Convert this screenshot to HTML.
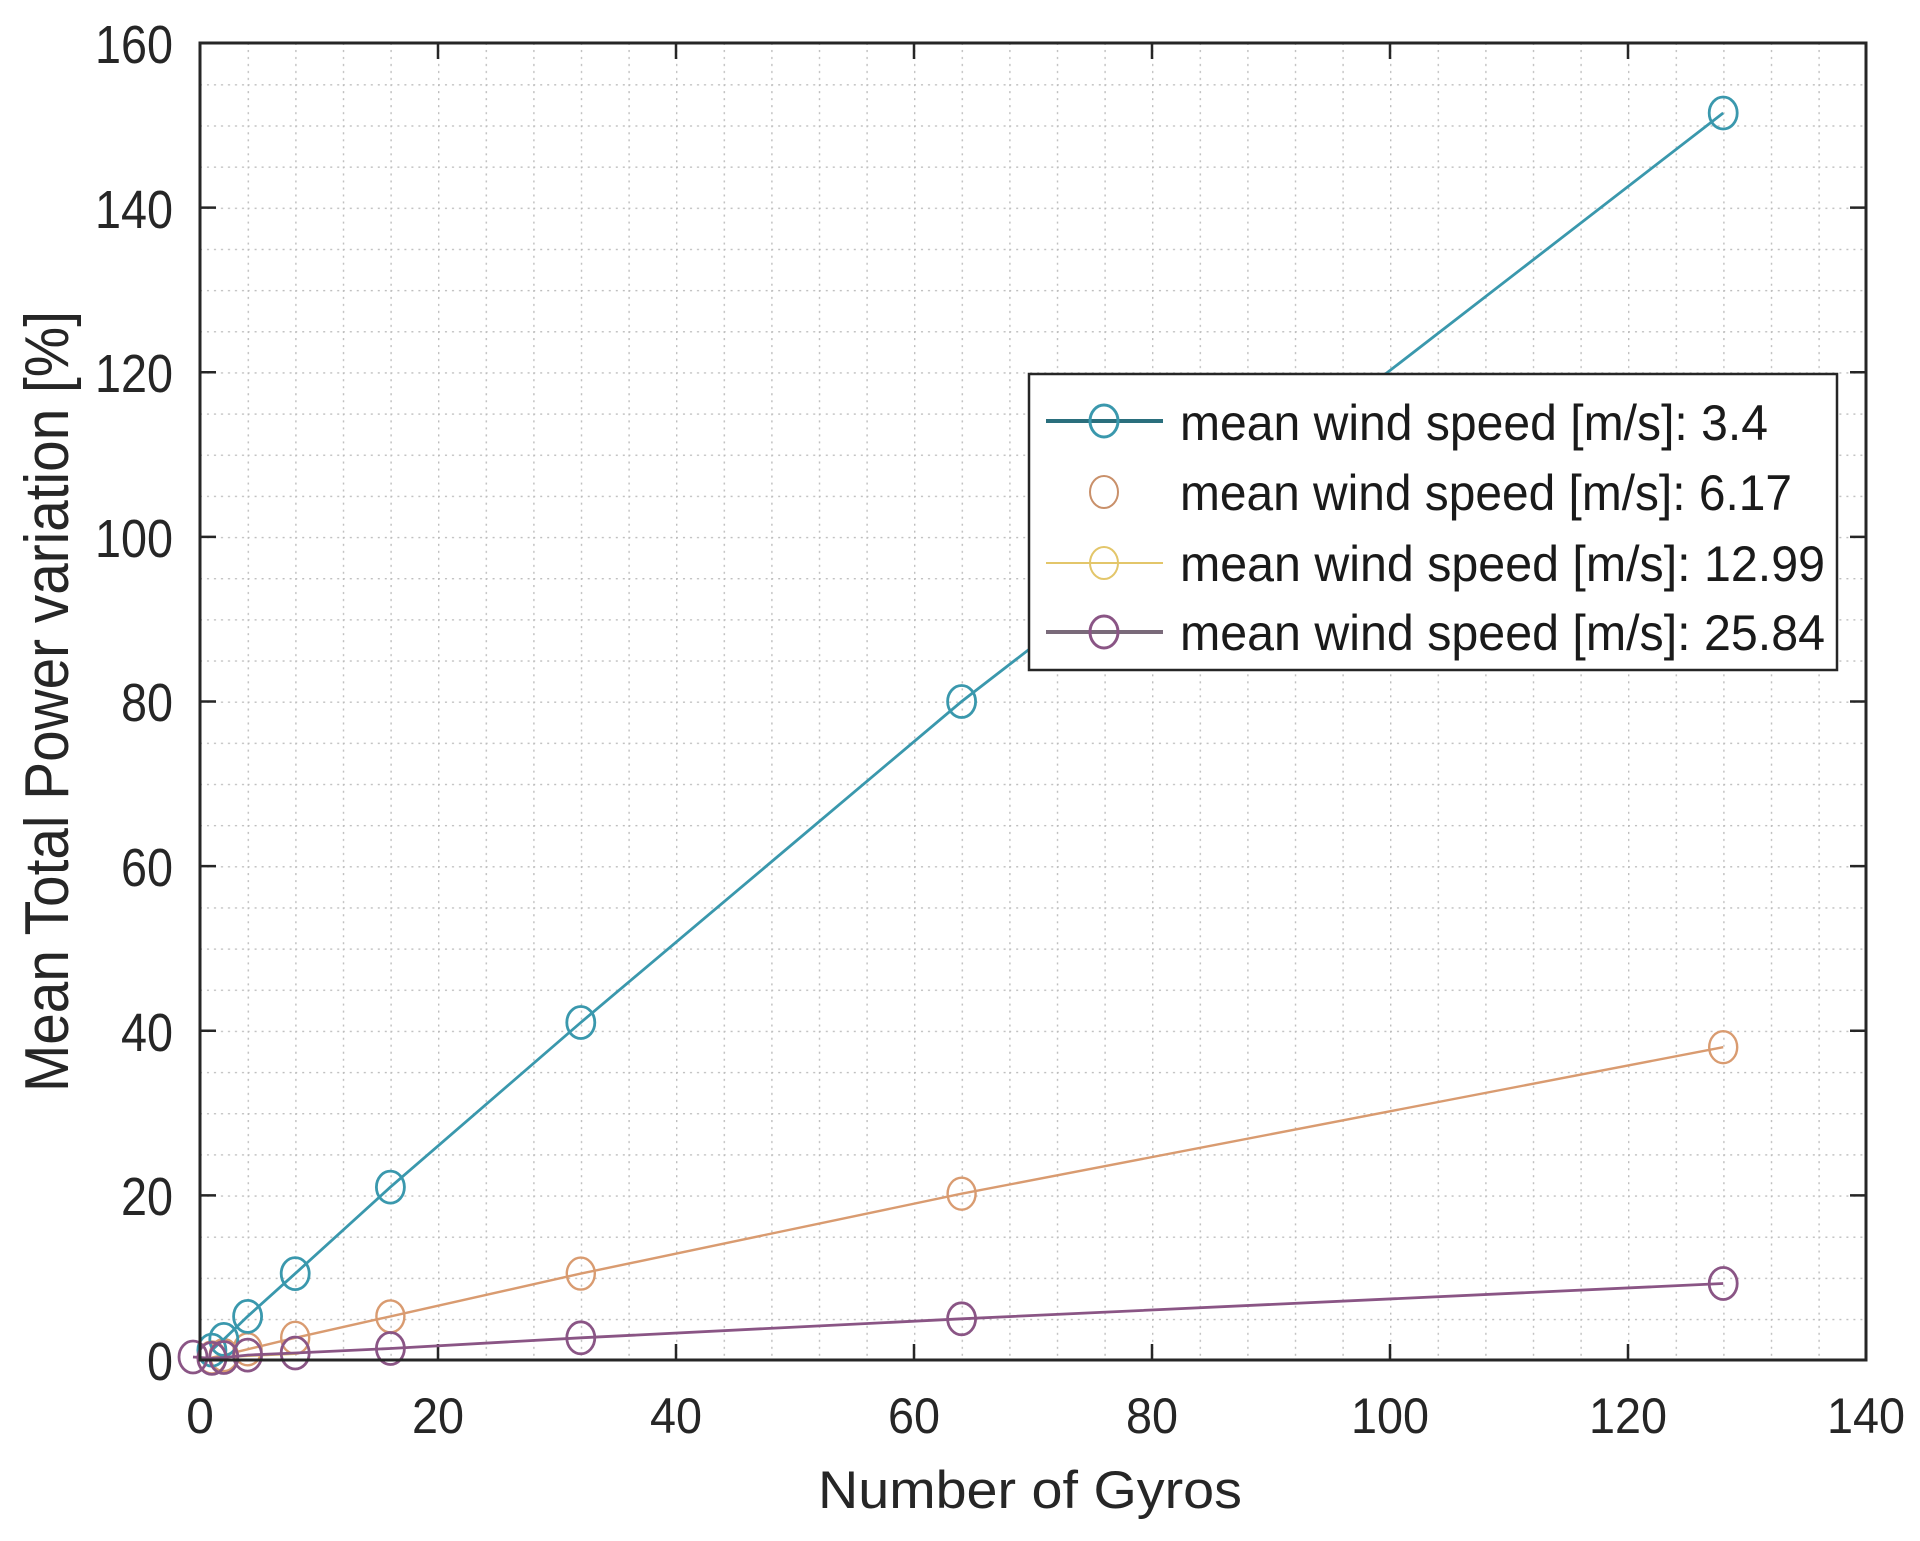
<!DOCTYPE html>
<html><head><meta charset="utf-8"><style>body{margin:0;background:#fff}svg{display:block}</style></head>
<body>
<svg width="1920" height="1541" viewBox="0 0 1920 1541" xmlns="http://www.w3.org/2000/svg" font-family="Liberation Sans, sans-serif" fill="#262626">
<defs>
<pattern id="g" x="200" y="43" width="47.6" height="41.156" patternUnits="userSpaceOnUse">
<line x1="0.5" y1="0" x2="0.5" y2="41.156" stroke="#bdbdbd" stroke-width="1.8" stroke-dasharray="2,5"/>
<line x1="0" y1="0.5" x2="47.6" y2="0.5" stroke="#bdbdbd" stroke-width="1.8" stroke-dasharray="2,5"/>
</pattern>
</defs>
<rect x="200" y="43" width="1666" height="1317" fill="url(#g)"/>
<g stroke="#262626" stroke-width="2.5">
<path d="M438 1360v-16M676 1360v-16M914 1360v-16M1152 1360v-16M1390 1360v-16M1628 1360v-16M438 43v16M676 43v16M914 43v16M1152 43v16M1390 43v16M1628 43v16"/>
<path d="M200 1195.4h16M200 1030.8h16M200 866.1h16M200 701.5h16M200 536.9h16M200 372.3h16M200 207.6h16M1866 1195.4h-16M1866 1030.8h-16M1866 866.1h-16M1866 701.5h-16M1866 536.9h-16M1866 372.3h-16M1866 207.6h-16"/>
</g>
<g fill="none" stroke-width="2.8">
<g stroke="#d99b70" stroke-width="2.4"><polyline points="211.9,1357.5 223.8,1355.1 247.6,1349.3 295.2,1337.8 390.4,1316.4 580.8,1273.6 961.6,1193.7 1723.2,1047.2"/>
<g><ellipse cx="211.9" cy="1357.5" rx="14" ry="16"/><ellipse cx="223.8" cy="1355.1" rx="14" ry="16"/><ellipse cx="247.6" cy="1349.3" rx="14" ry="16"/><ellipse cx="295.2" cy="1337.8" rx="14" ry="16"/><ellipse cx="390.4" cy="1316.4" rx="14" ry="16"/><ellipse cx="580.8" cy="1273.6" rx="14" ry="16"/><ellipse cx="961.6" cy="1193.7" rx="14" ry="16"/><ellipse cx="1723.2" cy="1047.2" rx="14" ry="16"/></g></g>
<g stroke="#3a98ad"><polyline points="211.9,1350.1 223.8,1339.4 247.6,1316.4 295.2,1273.6 390.4,1187.1 580.8,1022.5 961.6,701.5 1723.2,113"/>
<ellipse cx="211.9" cy="1350.1" rx="14" ry="16"/><ellipse cx="223.8" cy="1339.4" rx="14" ry="16"/><ellipse cx="247.6" cy="1316.4" rx="14" ry="16"/><ellipse cx="295.2" cy="1273.6" rx="14" ry="16"/><ellipse cx="390.4" cy="1187.1" rx="14" ry="16"/><ellipse cx="580.8" cy="1022.5" rx="14" ry="16"/><ellipse cx="961.6" cy="701.5" rx="14" ry="16"/><ellipse cx="1723.2" cy="113" rx="14" ry="16"/></g>
<g stroke="#e3c66a" stroke-width="2"><polyline points="211.9,1358.5 223.8,1357.5 247.6,1356 295.2,1354"/></g>
<g stroke="#8a5585"><polyline points="193,1357 211.9,1358.4 223.8,1357.5 247.6,1355.1 295.2,1353 390.4,1348.5 580.8,1337.8 961.6,1318.8 1723.2,1283.5"/>
<ellipse cx="193" cy="1357" rx="14" ry="16"/><ellipse cx="211.9" cy="1358.4" rx="14" ry="16"/><ellipse cx="223.8" cy="1357.5" rx="14" ry="16"/><ellipse cx="247.6" cy="1355.1" rx="14" ry="16"/><ellipse cx="295.2" cy="1353" rx="14" ry="16"/><ellipse cx="390.4" cy="1348.5" rx="14" ry="16"/><ellipse cx="580.8" cy="1337.8" rx="14" ry="16"/><ellipse cx="961.6" cy="1318.8" rx="14" ry="16"/><ellipse cx="1723.2" cy="1283.5" rx="14" ry="16"/></g>
</g>
<rect x="200" y="43" width="1666" height="1317" fill="none" stroke="#262626" stroke-width="3"/>
<rect x="1029" y="374" width="808" height="296" fill="#fff" stroke="#262626" stroke-width="2.5"/>
<g fill="none" stroke-width="3">
<line x1="1046" y1="421" x2="1163" y2="421" stroke="#2a6f7d" stroke-width="4"/><ellipse cx="1104" cy="421" rx="14" ry="16" stroke="#3a98ad"/>
<ellipse cx="1104" cy="492" rx="14" ry="16" stroke="#c9906a" stroke-width="2"/>
<line x1="1046" y1="563" x2="1163" y2="563" stroke="#e3c66a" stroke-width="2"/><ellipse cx="1104" cy="563" rx="14" ry="16" stroke="#e3c66a" stroke-width="2"/>
<line x1="1046" y1="632" x2="1163" y2="632" stroke="#7a6a7a" stroke-width="4"/><ellipse cx="1104" cy="632" rx="14" ry="16" stroke="#8a5585"/>
</g>
<g font-size="50" fill="#1a1a1a">
<text x="1180" y="440" textLength="588" lengthAdjust="spacingAndGlyphs">mean wind speed [m/s]: 3.4</text>
<text x="1180" y="510" textLength="612" lengthAdjust="spacingAndGlyphs">mean wind speed [m/s]: 6.17</text>
<text x="1180" y="581" textLength="645" lengthAdjust="spacingAndGlyphs">mean wind speed [m/s]: 12.99</text>
<text x="1180" y="650" textLength="645" lengthAdjust="spacingAndGlyphs">mean wind speed [m/s]: 25.84</text>
</g>
<g font-size="54" text-anchor="end">
<text x="173" y="1380" textLength="26" lengthAdjust="spacingAndGlyphs">0</text>
<text x="173" y="1215" textLength="52" lengthAdjust="spacingAndGlyphs">20</text>
<text x="173" y="1051" textLength="52" lengthAdjust="spacingAndGlyphs">40</text>
<text x="173" y="886" textLength="52" lengthAdjust="spacingAndGlyphs">60</text>
<text x="173" y="721" textLength="52" lengthAdjust="spacingAndGlyphs">80</text>
<text x="173" y="557" textLength="78" lengthAdjust="spacingAndGlyphs">100</text>
<text x="173" y="392" textLength="78" lengthAdjust="spacingAndGlyphs">120</text>
<text x="173" y="228" textLength="78" lengthAdjust="spacingAndGlyphs">140</text>
<text x="173" y="63" textLength="78" lengthAdjust="spacingAndGlyphs">160</text>
</g>
<g font-size="50" text-anchor="middle">
<text x="200" y="1433">0</text>
<text x="438" y="1433" textLength="52" lengthAdjust="spacingAndGlyphs">20</text>
<text x="676" y="1433" textLength="52" lengthAdjust="spacingAndGlyphs">40</text>
<text x="914" y="1433" textLength="52" lengthAdjust="spacingAndGlyphs">60</text>
<text x="1152" y="1433" textLength="52" lengthAdjust="spacingAndGlyphs">80</text>
<text x="1390" y="1433" textLength="78" lengthAdjust="spacingAndGlyphs">100</text>
<text x="1628" y="1433" textLength="78" lengthAdjust="spacingAndGlyphs">120</text>
<text x="1866" y="1433" textLength="78" lengthAdjust="spacingAndGlyphs">140</text>
</g>
<text x="818" y="1508" font-size="53" textLength="424" lengthAdjust="spacingAndGlyphs">Number of Gyros</text>
<text transform="translate(68,1092) rotate(-90)" font-size="62" textLength="781" lengthAdjust="spacingAndGlyphs">Mean Total Power variation [%]</text>
</svg>
</body></html>
